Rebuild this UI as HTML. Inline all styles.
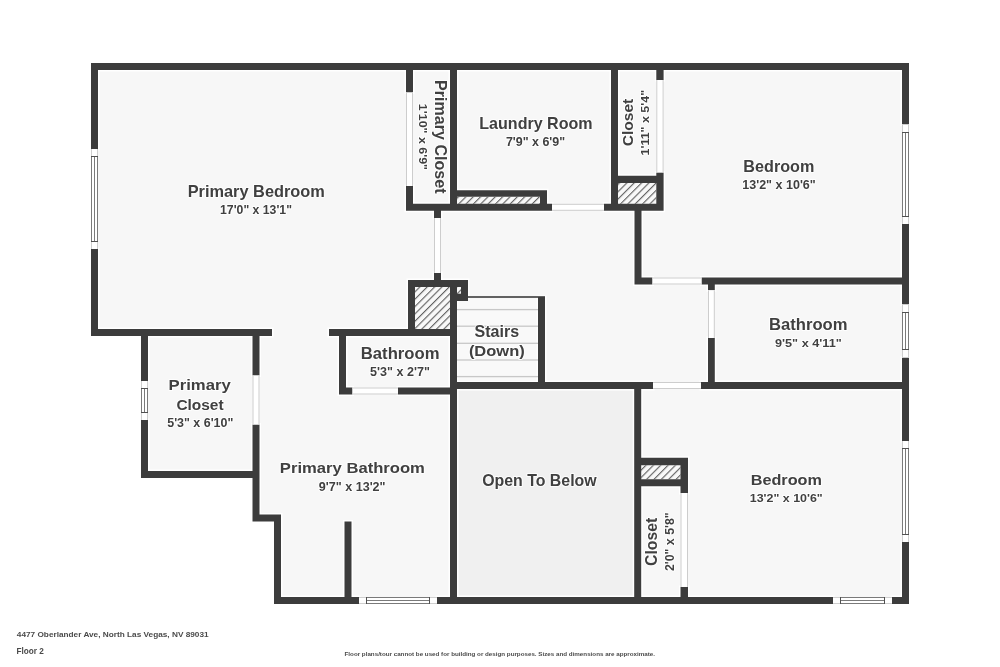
<!DOCTYPE html><html><head><meta charset="utf-8"><style>html,body{margin:0;padding:0;background:#fff;width:1000px;height:667px;overflow:hidden}svg{display:block;will-change:transform}</style></head><body>
<svg width="1000" height="667" viewBox="0 0 1000 667">
<defs><pattern id="hp" patternUnits="userSpaceOnUse" width="5.2" height="5.2" patternTransform="rotate(45)"><rect width="5.2" height="5.2" fill="#f8f8f8"/><line x1="0.6" y1="0" x2="0.6" y2="5.2" stroke="#505050" stroke-width="1"/></pattern></defs>
<polygon points="91,63 909,63 909,604 274,604 274,521.5 252.5,521.5 252.5,478 141,478 141,336 91,336" fill="#f7f7f7"/>
<rect x="457" y="389" width="177" height="208" fill="#f0f0f0"/>
<path fill="#fff" d="M89.5 61.5H910.5V71.5H89.5ZM89.5 61.5H99.5V150.5H89.5ZM89.5 247.5H99.5V337.5H89.5ZM900.5 61.5H910.5V126H900.5ZM900.5 222.5H910.5V306H900.5ZM900.5 356H910.5V442.5H900.5ZM900.5 540.5H910.5V605.5H900.5ZM272.5 595.5H360.5V605.5H272.5ZM435.5 595.5H834.5V605.5H435.5ZM890.5 595.5H910.5V605.5H890.5ZM89.5 327.5H273.5V337.5H89.5ZM139.5 327.5H149.5V382.5H139.5ZM139.5 418.5H149.5V479.5H139.5ZM139.5 469.5H261V479.5H139.5ZM251 327.5H261V377H251ZM251 423H261V523H251ZM251 513H282.5V523H251ZM272.5 513H282.5V605.5H272.5ZM343 520H353V605.5H343ZM404.5 61.5H414.5V94H404.5ZM404.5 184.5H414.5V212.3H404.5ZM404.5 202.3H553.5V212.3H404.5ZM602.5 202.3H665.1V212.3H602.5ZM448.5 61.5H458.5V212.3H448.5ZM455.5 188.8H548.5V198.3H455.5ZM538.5 188.8H548.5V212.3H538.5ZM609.5 61.5H619.5V212.3H609.5ZM654.8 61.5H665.1V81.5H654.8ZM654.8 170.9H665.1V212.3H654.8ZM616.5 174.3H665.1V184.4H616.5ZM432.5 209H442.5V219.5H432.5ZM432.5 271.5H442.5V281.5H432.5ZM406.5 278.5H469.5V288.5H406.5ZM406.5 278.5H416.5V337.5H406.5ZM448.5 278.5H458.5V605.5H448.5ZM455.5 278.5H469.5V302.5H455.5ZM327.5 327.5H458.5V337.5H327.5ZM337.5 327.5H347.5V396H337.5ZM337.5 386H354V396H337.5ZM396.5 386H458.5V396H396.5ZM536.5 295.5H546.5V390.5H536.5ZM448.5 380.5H654.5V390.5H448.5ZM699.5 380.5H910.5V390.5H699.5ZM632.7 380.5H642.7V605.5H632.7ZM633 209H643V286H633ZM633 276H654V286H633ZM700 276H910.5V286H700ZM706.5 276H716.3V291.8H706.5ZM706.5 336.5H716.3V390.5H706.5ZM639.5 456.2H689.5V466.8H639.5ZM639.5 477.8H689.5V487.8H639.5ZM679 456.2H689.5V494.5H679ZM679 585.5H689.5V605.5H679Z"/>
<rect x="459" y="299" width="77" height="81.5" fill="#f9f9f9"/>
<rect x="457" y="308.95" width="81" height="1.3" fill="#c8c8c8"/>
<rect x="457" y="325.55" width="81" height="1.3" fill="#c8c8c8"/>
<rect x="457" y="342.65" width="81" height="1.3" fill="#c8c8c8"/>
<rect x="457" y="359.35" width="81" height="1.3" fill="#c8c8c8"/>
<rect x="457" y="375.95" width="81" height="1.3" fill="#c8c8c8"/>
<rect x="466" y="296.2" width="79" height="1.6" fill="#3c3c3c"/>
<rect x="457" y="196.8" width="83" height="7" fill="url(#hp)"/>
<rect x="618" y="182.9" width="38.3" height="20.9" fill="url(#hp)"/>
<rect x="415" y="287" width="35" height="42" fill="url(#hp)"/>
<rect x="641" y="465.3" width="39.5" height="14" fill="url(#hp)"/>
<path fill="#3c3c3c" d="M91 63H909V70H91ZM91 63H98V149H91ZM91 249H98V336H91ZM902 63H909V124.5H902ZM902 224H909V304.5H902ZM902 357.5H909V441H902ZM902 542H909V604H902ZM274 597H359V604H274ZM437 597H833V604H437ZM892 597H909V604H892ZM91 329H272V336H91ZM141 329H148V381H141ZM141 420H148V478H141ZM141 471H259.5V478H141ZM252.5 329H259.5V375.5H252.5ZM252.5 424.5H259.5V521.5H252.5ZM252.5 514.5H281V521.5H252.5ZM274 514.5H281V604H274ZM344.5 521.5H351.5V604H344.5ZM406 63H413V92.5H406ZM406 186H413V210.8H406ZM406 203.8H552V210.8H406ZM604 203.8H663.6V210.8H604ZM450 63H457V210.8H450ZM457 190.3H547V196.8H457ZM540 190.3H547V210.8H540ZM611 63H618V210.8H611ZM656.3 63H663.6V80H656.3ZM656.3 172.4H663.6V210.8H656.3ZM618 175.8H663.6V182.9H618ZM434 210.5H441V218H434ZM434 273H441V280H434ZM408 280H468V287H408ZM408 280H415V336H408ZM450 280H457V604H450ZM457 280H468V301H457ZM329 329H457V336H329ZM339 329H346V394.5H339ZM339 387.5H352.5V394.5H339ZM398 387.5H457V394.5H398ZM538 297H545V389H538ZM450 382H653V389H450ZM701 382H909V389H701ZM634.2 382H641.2V604H634.2ZM634.5 210.5H641.5V284.5H634.5ZM634.5 277.5H652.5V284.5H634.5ZM701.5 277.5H909V284.5H701.5ZM708 277.5H714.8V290.3H708ZM708 338H714.8V389H708ZM641 457.7H688V465.3H641ZM641 479.3H688V486.3H641ZM680.5 457.7H688V493H680.5ZM680.5 587H688V604H680.5Z"/>
<rect x="457" y="287" width="4" height="6.7" fill="url(#hp)"/>
<rect x="91" y="149" width="7" height="100" fill="#fff"/>
<rect x="91" y="149" width="1" height="100" fill="#cfcfcf"/>
<rect x="97" y="149" width="1" height="100" fill="#cfcfcf"/>
<rect x="91" y="156" width="1" height="86" fill="#7a7a7a"/>
<rect x="97" y="156" width="1" height="86" fill="#7a7a7a"/>
<rect x="94" y="156" width="1" height="86" fill="#7a7a7a"/>
<rect x="91" y="156" width="7" height="1" fill="#505050"/>
<rect x="91" y="241" width="7" height="1" fill="#505050"/>
<rect x="902" y="124.5" width="7" height="99.5" fill="#fff"/>
<rect x="902" y="124.5" width="1" height="99.5" fill="#cfcfcf"/>
<rect x="908" y="124.5" width="1" height="99.5" fill="#cfcfcf"/>
<rect x="902" y="132" width="1" height="85" fill="#7a7a7a"/>
<rect x="908" y="132" width="1" height="85" fill="#7a7a7a"/>
<rect x="905" y="132" width="1" height="85" fill="#7a7a7a"/>
<rect x="902" y="132" width="7" height="1" fill="#505050"/>
<rect x="902" y="216" width="7" height="1" fill="#505050"/>
<rect x="902" y="304.5" width="7" height="53" fill="#fff"/>
<rect x="902" y="304.5" width="1" height="53" fill="#cfcfcf"/>
<rect x="908" y="304.5" width="1" height="53" fill="#cfcfcf"/>
<rect x="902" y="312" width="1" height="38" fill="#7a7a7a"/>
<rect x="908" y="312" width="1" height="38" fill="#7a7a7a"/>
<rect x="905" y="312" width="1" height="38" fill="#7a7a7a"/>
<rect x="902" y="312" width="7" height="1" fill="#505050"/>
<rect x="902" y="349" width="7" height="1" fill="#505050"/>
<rect x="902" y="441" width="7" height="101" fill="#fff"/>
<rect x="902" y="441" width="1" height="101" fill="#cfcfcf"/>
<rect x="908" y="441" width="1" height="101" fill="#cfcfcf"/>
<rect x="902" y="448" width="1" height="87" fill="#7a7a7a"/>
<rect x="908" y="448" width="1" height="87" fill="#7a7a7a"/>
<rect x="905" y="448" width="1" height="87" fill="#7a7a7a"/>
<rect x="902" y="448" width="7" height="1" fill="#505050"/>
<rect x="902" y="534" width="7" height="1" fill="#505050"/>
<rect x="359" y="597" width="78" height="7" fill="#fff"/>
<rect x="359" y="597" width="78" height="1" fill="#cfcfcf"/>
<rect x="359" y="603" width="78" height="1" fill="#cfcfcf"/>
<rect x="366" y="597" width="64" height="1" fill="#7a7a7a"/>
<rect x="366" y="603" width="64" height="1" fill="#7a7a7a"/>
<rect x="366" y="600" width="64" height="1" fill="#7a7a7a"/>
<rect x="366" y="597" width="1" height="7" fill="#505050"/>
<rect x="429" y="597" width="1" height="7" fill="#505050"/>
<rect x="833" y="597" width="59" height="7" fill="#fff"/>
<rect x="833" y="597" width="59" height="1" fill="#cfcfcf"/>
<rect x="833" y="603" width="59" height="1" fill="#cfcfcf"/>
<rect x="840" y="597" width="45" height="1" fill="#7a7a7a"/>
<rect x="840" y="603" width="45" height="1" fill="#7a7a7a"/>
<rect x="840" y="600" width="45" height="1" fill="#7a7a7a"/>
<rect x="840" y="597" width="1" height="7" fill="#505050"/>
<rect x="884" y="597" width="1" height="7" fill="#505050"/>
<rect x="141" y="381" width="7" height="39" fill="#fff"/>
<rect x="141" y="381" width="1" height="39" fill="#cfcfcf"/>
<rect x="147" y="381" width="1" height="39" fill="#cfcfcf"/>
<rect x="141" y="388" width="1" height="25" fill="#7a7a7a"/>
<rect x="147" y="388" width="1" height="25" fill="#7a7a7a"/>
<rect x="144" y="388" width="1" height="25" fill="#7a7a7a"/>
<rect x="141" y="388" width="7" height="1" fill="#505050"/>
<rect x="141" y="412" width="7" height="1" fill="#505050"/>
<rect x="252.5" y="375.5" width="7" height="49" fill="#fff"/>
<rect x="252.5" y="375.5" width="1" height="49" fill="#cdcdcd"/>
<rect x="258.5" y="375.5" width="1" height="49" fill="#cdcdcd"/>
<rect x="406" y="92.5" width="7" height="93.5" fill="#fff"/>
<rect x="406" y="92.5" width="1" height="93.5" fill="#cdcdcd"/>
<rect x="412" y="92.5" width="1" height="93.5" fill="#cdcdcd"/>
<rect x="552" y="203.8" width="52" height="7" fill="#fff"/>
<rect x="552" y="203.8" width="52" height="1" fill="#cdcdcd"/>
<rect x="552" y="209.8" width="52" height="1" fill="#cdcdcd"/>
<rect x="656.3" y="80" width="7.3" height="92.4" fill="#fff"/>
<rect x="656.3" y="80" width="1" height="92.4" fill="#cdcdcd"/>
<rect x="662.6" y="80" width="1" height="92.4" fill="#cdcdcd"/>
<rect x="434" y="218" width="7" height="55" fill="#fff"/>
<rect x="434" y="218" width="1" height="55" fill="#cdcdcd"/>
<rect x="440" y="218" width="1" height="55" fill="#cdcdcd"/>
<rect x="352.5" y="387.5" width="45.5" height="7" fill="#fff"/>
<rect x="352.5" y="387.5" width="45.5" height="1" fill="#cdcdcd"/>
<rect x="352.5" y="393.5" width="45.5" height="1" fill="#cdcdcd"/>
<rect x="653" y="382" width="48" height="7" fill="#fff"/>
<rect x="653" y="382" width="48" height="1" fill="#cdcdcd"/>
<rect x="653" y="388" width="48" height="1" fill="#cdcdcd"/>
<rect x="652.5" y="277.5" width="49" height="7" fill="#fff"/>
<rect x="652.5" y="277.5" width="49" height="1" fill="#cdcdcd"/>
<rect x="652.5" y="283.5" width="49" height="1" fill="#cdcdcd"/>
<rect x="708" y="290.3" width="6.8" height="47.7" fill="#fff"/>
<rect x="708" y="290.3" width="1" height="47.7" fill="#cdcdcd"/>
<rect x="713.8" y="290.3" width="1" height="47.7" fill="#cdcdcd"/>
<rect x="680.5" y="493" width="7.5" height="94" fill="#fff"/>
<rect x="680.5" y="493" width="1" height="94" fill="#cdcdcd"/>
<rect x="687" y="493" width="1" height="94" fill="#cdcdcd"/>
<text transform="translate(187.654,196.900) scale(0.16368,0.15827)" font-family="Liberation Sans" font-weight="bold" font-size="100" fill="#404040" stroke="#fff" stroke-opacity="0.85" stroke-width="12.6364" stroke-linejoin="round" paint-order="stroke">Primary Bedroom</text>
<text transform="translate(220.065,213.900) scale(0.12243,0.12143)" font-family="Liberation Sans" font-weight="bold" font-size="100" fill="#404040" stroke="#fff" stroke-opacity="0.85" stroke-width="16.4706" stroke-linejoin="round" paint-order="stroke">17&#x27;0&quot; x 13&#x27;1&quot;</text>
<text transform="translate(479.275,129.300) scale(0.16069,0.16259)" font-family="Liberation Sans" font-weight="bold" font-size="100" fill="#404040" stroke="#fff" stroke-opacity="0.85" stroke-width="12.3009" stroke-linejoin="round" paint-order="stroke">Laundry Room</text>
<text transform="translate(505.902,146.000) scale(0.12452,0.12143)" font-family="Liberation Sans" font-weight="bold" font-size="100" fill="#404040" stroke="#fff" stroke-opacity="0.85" stroke-width="16.4706" stroke-linejoin="round" paint-order="stroke">7&#x27;9&quot; x 6&#x27;9&quot;</text>
<text transform="translate(743.366,172.000) scale(0.16197,0.16547)" font-family="Liberation Sans" font-weight="bold" font-size="100" fill="#404040" stroke="#fff" stroke-opacity="0.85" stroke-width="12.087" stroke-linejoin="round" paint-order="stroke">Bedroom</text>
<text transform="translate(742.249,188.800) scale(0.12522,0.11857)" font-family="Liberation Sans" font-weight="bold" font-size="100" fill="#404040" stroke="#fff" stroke-opacity="0.85" stroke-width="16.8675" stroke-linejoin="round" paint-order="stroke">13&#x27;2&quot; x 10&#x27;6&quot;</text>
<text transform="translate(769.036,329.500) scale(0.16623,0.15827)" font-family="Liberation Sans" font-weight="bold" font-size="100" fill="#404040" stroke="#fff" stroke-opacity="0.85" stroke-width="12.6364" stroke-linejoin="round" paint-order="stroke">Bathroom</text>
<text transform="translate(774.992,346.500) scale(0.12694,0.11429)" font-family="Liberation Sans" font-weight="bold" font-size="100" fill="#404040" stroke="#fff" stroke-opacity="0.85" stroke-width="17.5" stroke-linejoin="round" paint-order="stroke">9&#x27;5&quot; x 4&#x27;11&quot;</text>
<text transform="translate(360.833,358.700) scale(0.16667,0.16115)" font-family="Liberation Sans" font-weight="bold" font-size="100" fill="#404040" stroke="#fff" stroke-opacity="0.85" stroke-width="12.4107" stroke-linejoin="round" paint-order="stroke">Bathroom</text>
<text transform="translate(370.123,375.500) scale(0.12554,0.12143)" font-family="Liberation Sans" font-weight="bold" font-size="100" fill="#404040" stroke="#fff" stroke-opacity="0.85" stroke-width="16.4706" stroke-linejoin="round" paint-order="stroke">5&#x27;3&quot; x 2&#x27;7&quot;</text>
<text transform="translate(474.518,336.700) scale(0.16052,0.16115)" font-family="Liberation Sans" font-weight="bold" font-size="100" fill="#404040" stroke="#fff" stroke-opacity="0.85" stroke-width="12.4107" stroke-linejoin="round" paint-order="stroke">Stairs</text>
<text transform="translate(468.875,356.200) scale(0.16505,0.15540)" font-family="Liberation Sans" font-weight="bold" font-size="100" fill="#404040" stroke="#fff" stroke-opacity="0.85" stroke-width="12.8704" stroke-linejoin="round" paint-order="stroke">(Down)</text>
<text transform="translate(279.835,473.300) scale(0.16647,0.15108)" font-family="Liberation Sans" font-weight="bold" font-size="100" fill="#404040" stroke="#fff" stroke-opacity="0.85" stroke-width="13.2381" stroke-linejoin="round" paint-order="stroke">Primary Bathroom</text>
<text transform="translate(318.797,490.800) scale(0.12572,0.12143)" font-family="Liberation Sans" font-weight="bold" font-size="100" fill="#404040" stroke="#fff" stroke-opacity="0.85" stroke-width="16.4706" stroke-linejoin="round" paint-order="stroke">9&#x27;7&quot; x 13&#x27;2&quot;</text>
<text transform="translate(168.530,389.500) scale(0.16712,0.14676)" font-family="Liberation Sans" font-weight="bold" font-size="100" fill="#404040" stroke="#fff" stroke-opacity="0.85" stroke-width="13.6275" stroke-linejoin="round" paint-order="stroke">Primary</text>
<text transform="translate(176.381,409.500) scale(0.15467,0.14820)" font-family="Liberation Sans" font-weight="bold" font-size="100" fill="#404040" stroke="#fff" stroke-opacity="0.85" stroke-width="13.4951" stroke-linejoin="round" paint-order="stroke">Closet</text>
<text transform="translate(167.226,426.500) scale(0.12452,0.11857)" font-family="Liberation Sans" font-weight="bold" font-size="100" fill="#404040" stroke="#fff" stroke-opacity="0.85" stroke-width="16.8675" stroke-linejoin="round" paint-order="stroke">5&#x27;3&quot; x 6&#x27;10&quot;</text>
<text transform="translate(482.164,485.800) scale(0.15894,0.15827)" font-family="Liberation Sans" font-weight="bold" font-size="100" fill="#404040" stroke="#fff" stroke-opacity="0.85" stroke-width="12.6364" stroke-linejoin="round" paint-order="stroke">Open To Below</text>
<text transform="translate(750.663,484.700) scale(0.16244,0.15396)" font-family="Liberation Sans" font-weight="bold" font-size="100" fill="#404040" stroke="#fff" stroke-opacity="0.85" stroke-width="12.9907" stroke-linejoin="round" paint-order="stroke">Bedroom</text>
<text transform="translate(749.754,501.500) scale(0.12435,0.11429)" font-family="Liberation Sans" font-weight="bold" font-size="100" fill="#404040" stroke="#fff" stroke-opacity="0.85" stroke-width="17.5" stroke-linejoin="round" paint-order="stroke">13&#x27;2&quot; x 10&#x27;6&quot;</text>
<text transform="translate(16.835,636.600) scale(0.08258,0.08058)" font-family="Liberation Sans" font-weight="bold" font-size="100" fill="#4a4a4a">4477 Oberlander Ave, North Las Vegas, NV 89031</text>
<text transform="translate(16.426,653.500) scale(0.08199,0.08201)" font-family="Liberation Sans" font-weight="bold" font-size="100" fill="#4a4a4a">Floor 2</text>
<text transform="translate(344.563,655.800) scale(0.06237,0.06187)" font-family="Liberation Sans" font-weight="bold" font-size="100" fill="#4a4a4a">Floor plans/tour cannot be used for building or design purposes. Sizes and dimensions are approximate.</text>
<text transform="translate(435.400,80.074) rotate(90) scale(0.16089,0.16115)" font-family="Liberation Sans" font-weight="bold" font-size="100" fill="#404040" stroke="#fff" stroke-opacity="0.85" stroke-width="12.4107" stroke-linejoin="round" paint-order="stroke">Primary Closet</text>
<text transform="translate(418.700,103.853) rotate(90) scale(0.12447,0.11571)" font-family="Liberation Sans" font-weight="bold" font-size="100" fill="#404040" stroke="#fff" stroke-opacity="0.85" stroke-width="17.284" stroke-linejoin="round" paint-order="stroke">1&#x27;10&quot; x 6&#x27;9&quot;</text>
<text transform="translate(633.000,146.323) rotate(-90) scale(0.15567,0.15396)" font-family="Liberation Sans" font-weight="bold" font-size="100" fill="#404040" stroke="#fff" stroke-opacity="0.85" stroke-width="12.9907" stroke-linejoin="round" paint-order="stroke">Closet</text>
<text transform="translate(649.300,155.448) rotate(-90) scale(0.12471,0.11286)" font-family="Liberation Sans" font-weight="bold" font-size="100" fill="#404040" stroke="#fff" stroke-opacity="0.85" stroke-width="17.7215" stroke-linejoin="round" paint-order="stroke">1&#x27;11&quot; x 5&#x27;4&quot;</text>
<text transform="translate(657.200,565.931) rotate(-90) scale(0.15767,0.16403)" font-family="Liberation Sans" font-weight="bold" font-size="100" fill="#404040" stroke="#fff" stroke-opacity="0.85" stroke-width="12.193" stroke-linejoin="round" paint-order="stroke">Closet</text>
<text transform="translate(674.000,571.070) rotate(-90) scale(0.12339,0.12429)" font-family="Liberation Sans" font-weight="bold" font-size="100" fill="#404040" stroke="#fff" stroke-opacity="0.85" stroke-width="16.092" stroke-linejoin="round" paint-order="stroke">2&#x27;0&quot; x 5&#x27;8&quot;</text>
</svg></body></html>
